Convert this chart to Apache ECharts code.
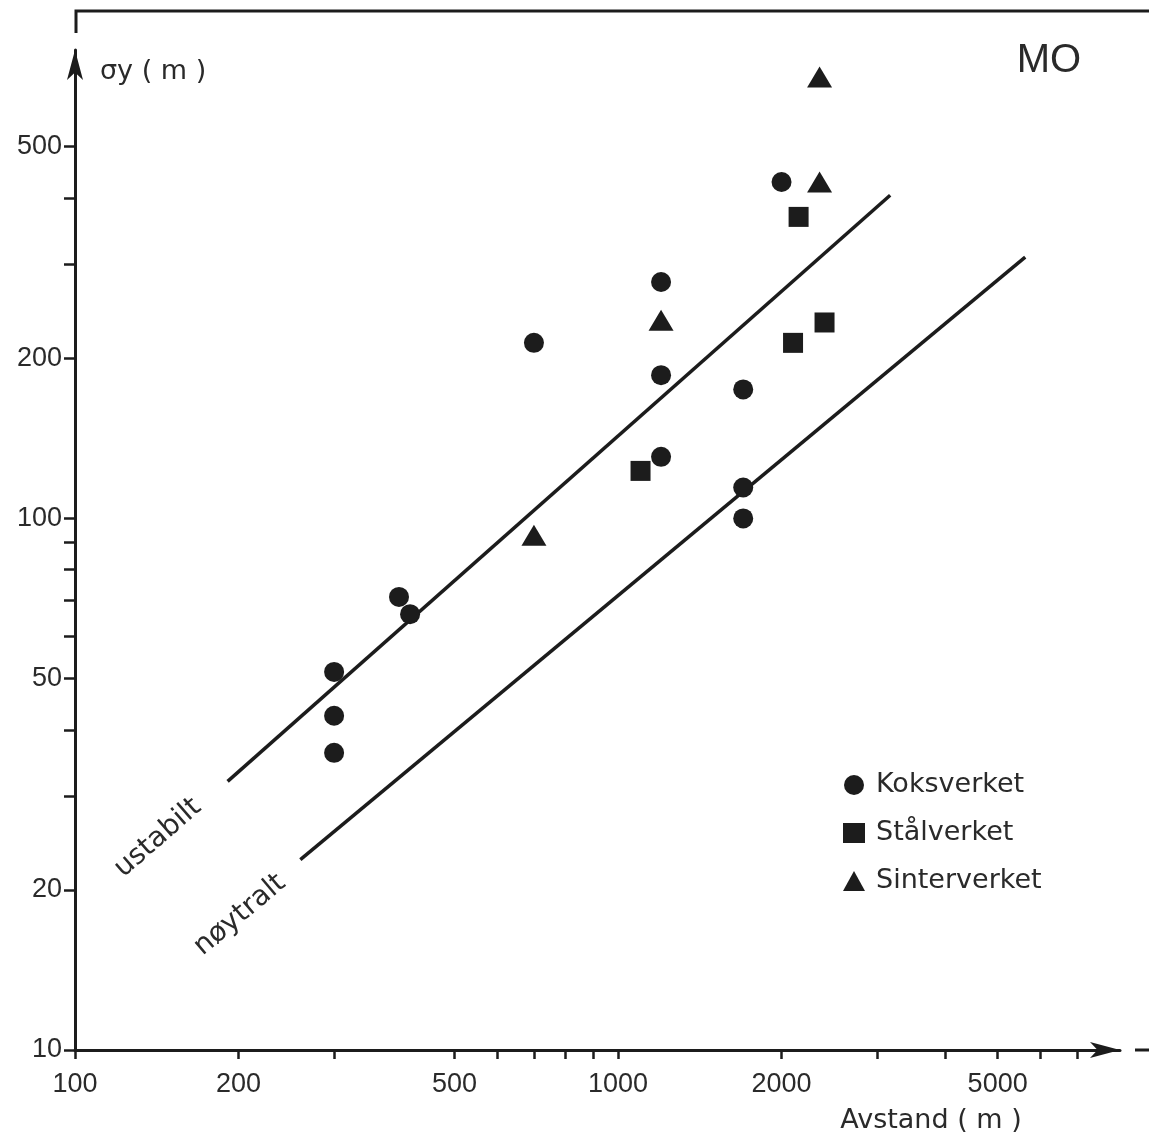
<!DOCTYPE html>
<html>
<head>
<meta charset="utf-8">
<title>MO – σy mot avstand</title>
<script src="https://cdn.jsdelivr.net/npm/echarts@6/dist/echarts.min.js"></script>
<style>
  html, body { margin: 0; padding: 0; background: #ffffff; }
  #chart { width: 1149px; height: 1136px; }
</style>
</head>
<body>
<div id="chart"></div>
<script>
// Spredning σy (m) mot avstand (m), log-log, Mo i Rana
const koksverketX = [300, 300, 300, 395, 414, 700, 1200, 1200, 1200, 1700, 1700, 1700, 2000];
const koksverketY = [51.4, 42.5, 36.2, 71.1, 66.0, 213.6, 278, 185.7, 130.4, 174.6, 114.2, 99.9, 428.6];

const staalverketX = [1100, 2150, 2100, 2400];
const staalverketY = [122.7, 368.5, 213.6, 233.3];

const sinterverketX = [700, 1200, 2350, 2350];
const sinterverketY = [92.9, 235.6, 428.6, 675];

// Referanselinjer for ustabil og nøytral sjiktning
const ustabiltX = [191, 3170];
const ustabiltY = [32.0, 404.7];
const noytraltX = [260, 5620];
const noytraltY = [22.8, 309.6];

// Akseinndeling
const xTickValues = [100, 200, 300, 500, 600, 700, 800, 900, 1000, 2000, 3000, 4000, 5000, 6000, 7000];
const xLabelValues = [100, 200, 500, 1000, 2000, 5000];
const yTickValues = [10, 20, 30, 40, 50, 60, 70, 80, 90, 100, 200, 300, 400, 500];
const yLabelValues = [10, 20, 50, 100, 200, 500];

const ink = '#1c1c1c';
const textInk = '#2a2a2a';
const numFont = '"Liberation Sans", "DejaVu Sans", sans-serif';
const wordFont = '"DejaVu Sans", "Liberation Sans", sans-serif';

function pairs(xs, ys) {
  return xs.map((x, i) => [x, ys[i]]);
}

const chart = echarts.init(document.getElementById('chart'), null, { renderer: 'canvas' });

const axisLineStyle = { color: ink, width: 3 };
const markStyle = { color: ink, opacity: 1 };

const option = {
  backgroundColor: '#ffffff',
  animation: false,
  grid: { left: 75, right: 29, top: 50, bottom: 86, containLabel: false },
  xAxis: {
    type: 'log',
    min: 100,
    max: 8400,
    logBase: 10,
    splitLine: { show: false },
    axisLine: {
      show: true,
      lineStyle: axisLineStyle,
      symbol: ['none', 'arrow'],
      symbolSize: [12, 30]
    },
    axisTick: {
      show: true,
      inside: false,
      length: 9,
      lineStyle: { color: ink, width: 2.5 },
      customValues: xTickValues
    },
    axisLabel: {
      show: true,
      margin: 21,
      color: textInk,
      fontSize: 27,
      fontFamily: numFont,
      customValues: xLabelValues,
      formatter: v => String(Math.round(v))
    }
  },
  yAxis: {
    type: 'log',
    min: 10,
    max: 759,
    logBase: 10,
    splitLine: { show: false },
    axisLine: {
      show: true,
      lineStyle: axisLineStyle,
      symbol: ['none', 'arrow'],
      symbolSize: [12, 30]
    },
    axisTick: {
      show: true,
      inside: false,
      length: 11,
      lineStyle: { color: ink, width: 2.5 },
      customValues: yTickValues
    },
    axisLabel: {
      show: true,
      margin: 13,
      color: textInk,
      fontSize: 27,
      fontFamily: numFont,
      customValues: yLabelValues,
      formatter: v => String(Math.round(v))
    }
  },
  legend: {
    orient: 'vertical',
    left: 838,
    top: 766,
    itemGap: 20,
    itemWidth: 22,
    itemHeight: 20,
    data: ['Koksverket', 'Stålverket', 'Sinterverket'],
    itemStyle: { opacity: 1 },
    textStyle: {
      color: textInk,
      fontSize: 27,
      fontFamily: wordFont,
      lineHeight: 28,
      padding: [0, 0, 0, 6]
    }
  },
  series: [
    {
      name: 'ustabilt',
      type: 'line',
      data: pairs(ustabiltX, ustabiltY),
      symbol: 'none',
      lineStyle: { color: ink, width: 3.5 },
      silent: true,
      z: 2
    },
    {
      name: 'nøytralt',
      type: 'line',
      data: pairs(noytraltX, noytraltY),
      symbol: 'none',
      lineStyle: { color: ink, width: 3.5 },
      silent: true,
      z: 2
    },
    {
      name: 'Koksverket',
      type: 'scatter',
      data: pairs(koksverketX, koksverketY),
      symbol: 'circle',
      symbolSize: 20,
      itemStyle: markStyle,
      z: 3
    },
    {
      name: 'Stålverket',
      type: 'scatter',
      data: pairs(staalverketX, staalverketY),
      symbol: 'rect',
      symbolSize: 20,
      itemStyle: markStyle,
      z: 3
    },
    {
      name: 'Sinterverket',
      type: 'scatter',
      data: pairs(sinterverketX, sinterverketY),
      symbol: 'triangle',
      symbolSize: [25, 21],
      itemStyle: markStyle,
      z: 3
    }
  ],
  graphic: [
    // ramme øverst
    {
      type: 'polyline',
      shape: { points: [[76, 33], [76, 11], [1149, 11]] },
      style: { stroke: ink, lineWidth: 3, fill: null },
      z: 1
    },
    // kort strek etter x-aksens pil
    {
      type: 'line',
      shape: { x1: 1135, y1: 1050, x2: 1149, y2: 1050 },
      style: { stroke: ink, lineWidth: 3 }
    },
    {
      type: 'text',
      x: 100, y: 72,
      style: {
        text: 'σy ( m )',
        fill: textInk,
        font: '27px ' + wordFont,
        verticalAlign: 'middle',
        align: 'left'
      }
    },
    {
      type: 'text',
      x: 931, y: 1121,
      style: {
        text: 'Avstand ( m )',
        fill: textInk,
        font: '27px ' + wordFont,
        verticalAlign: 'middle',
        align: 'center'
      }
    },
    {
      type: 'text',
      x: 1049, y: 61,
      style: {
        text: 'MO',
        fill: textInk,
        font: '40px ' + numFont,
        verticalAlign: 'middle',
        align: 'center'
      }
    },
    {
      type: 'text',
      x: 158, y: 838,
      rotation: 41 * Math.PI / 180,
      style: {
        text: 'ustabilt',
        fill: textInk,
        font: '28px ' + wordFont,
        verticalAlign: 'middle',
        align: 'center'
      }
    },
    {
      type: 'text',
      x: 240, y: 915,
      rotation: 40 * Math.PI / 180,
      style: {
        text: 'nøytralt',
        fill: textInk,
        font: '28px ' + wordFont,
        verticalAlign: 'middle',
        align: 'center'
      }
    }
  ]
};

chart.setOption(option);
</script>
</body>
</html>
